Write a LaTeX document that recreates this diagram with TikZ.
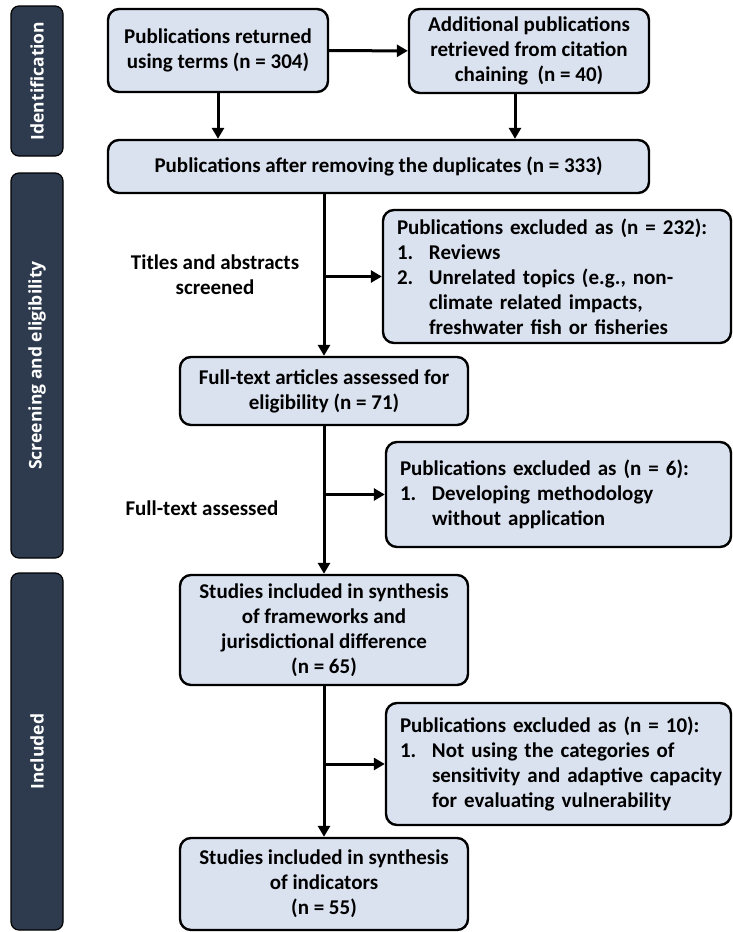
\documentclass[tikz,border=0pt]{standalone}
\usepackage{fontspec}
\setmainfont{Carlito}
\newfontfamily\sidefont{Open Sans}
\usetikzlibrary{arrows.meta, positioning}
\definecolor{boxfill}{HTML}{DAE1EF}
\definecolor{sidefill}{HTML}{2E3B4E}
\newcommand{\itm}[1]{\makebox[32pt][l]{#1}}

\begin{document}
\begin{tikzpicture}[x=1pt, y=-1pt]
    \tikzstyle{every node}=[align=center, font=\bfseries\fontsize{21}{25}\selectfont]
    \tikzstyle{flowbox}=[rectangle, rounded corners=11pt, draw, line width=2.4pt, fill=boxfill, inner sep=0pt]
    \tikzstyle{exbox}=[flowbox, align=left, inner xsep=14pt]
    \tikzstyle{phase}=[rectangle, rounded corners=8pt, draw=black, line width=1.2pt, fill=sidefill, text=white, rotate=90, inner sep=0pt, minimum height=52pt, font=\sidefont\bfseries\fontsize{17.5}{20}\selectfont]
    \tikzstyle{arr}=[line width=3pt, -{Triangle[length=11pt, width=12pt]}]
    \useasboundingbox (0,0) rectangle (733,932);
    \node [phase, minimum width=150pt] (idf) at (37,81) {Identification};
    \node [phase, minimum width=385pt] (scr) at (37,365.5) {Screening and eligibility};
    \node [phase, minimum width=357pt] (inc) at (37,751.5) {Included};
    \node [flowbox, minimum width=220pt, minimum height=83pt] (ret) at (218,50.5)
      {Publications returned\\using terms (n = 304)};
    \node [flowbox, minimum width=240pt, minimum height=84pt] (add) at (529,51)
      {Additional publications\\retrieved from citation\\chaining\ \ (n = 40)};
    \node [flowbox, minimum width=541pt, minimum height=53pt] (dup) at (378.5,166.5)
      {Publications after removing the duplicates (n = 333)};
    \node [exbox, text width=320pt, minimum height=133pt] (exa) at (557,276.5)
      {Publications excluded as (n = 232):\\
       \itm{1.}Reviews\\
       \itm{2.}Unrelated topics (e.g., non-\\
       \itm{}climate related impacts,\\
       \itm{}freshwater fish or fisheries};
    \node [flowbox, minimum width=288pt, minimum height=68pt] (full) at (324,391)
      {Full-text articles assessed for\\eligibility (n = 71)};
    \node [exbox, text width=317pt, minimum height=105pt] (exb) at (558.5,494.5)
      {Publications excluded as (n = 6):\\
       \itm{1.}Developing methodology\\
       \itm{}without application};
    \node [flowbox, minimum width=288pt, minimum height=110pt] (syn) at (324,630)
      {Studies included in synthesis\\of frameworks and\\jurisdictional difference\\(n = 65)};
    \node [exbox, text width=317pt, minimum height=122pt] (exc) at (558.5,764)
      {Publications excluded as (n = 10):\\
       \itm{1.}\mbox{Not using the categories of}\\
       \itm{}\mbox{sensitivity and adaptive capacity}\\
       \itm{}\mbox{for evaluating vulnerability}};
    \node [flowbox, minimum width=288pt, minimum height=92pt] (ind) at (324,884)
      {Studies included in synthesis\\of indicators\\(n = 55)};
    \node (tas) at (215,274.5) {Titles and abstracts\\screened};
    \node (fta) at (202,508) {Full-text assessed};
    \coordinate (addout) at (515,93);
    \draw [arr] (ret) -- (add);
    \draw [arr] (ret.south) -- (ret.south |- dup.north);
    \draw [arr] (addout) -- (addout |- dup.north);
    \draw [arr] (dup.south -| full) -- (full.north);
    \draw [arr] (exa.west -| full) -- (exa.west);
    \draw [arr] (full) -- (syn);
    \draw [arr] (exb.west -| full) -- (exb.west);
    \draw [arr] (syn) -- (ind);
    \draw [arr] (exc.west -| syn) -- (exc.west);
  \end{tikzpicture}
\end{document}
